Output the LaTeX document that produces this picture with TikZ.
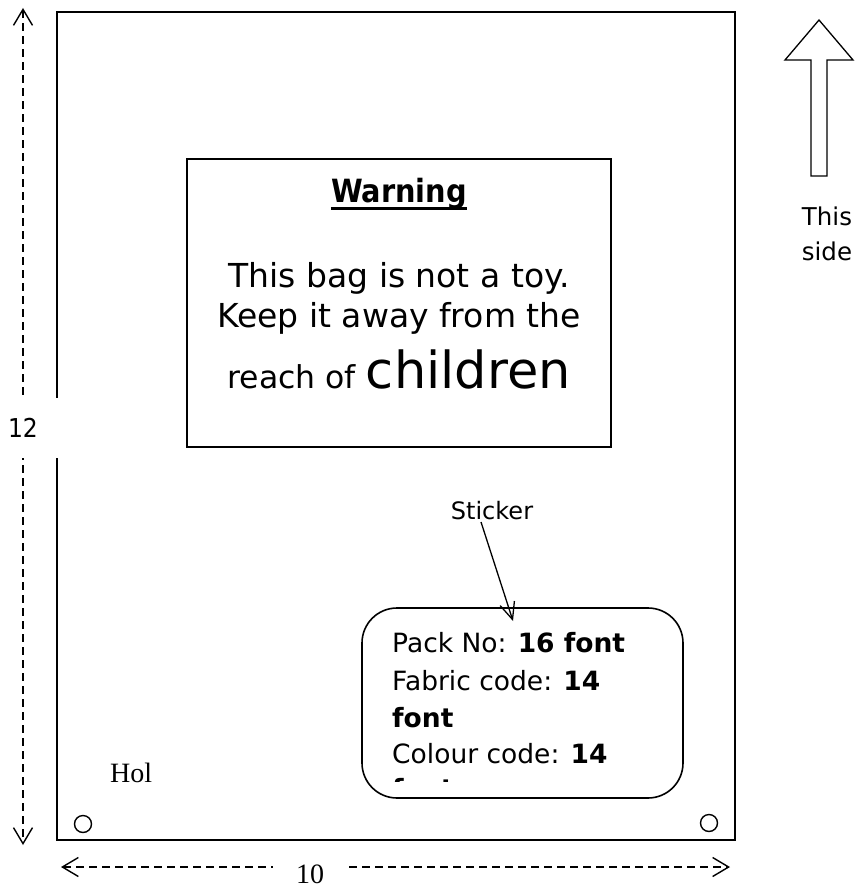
\documentclass[tikz,border=0pt]{standalone}
\usepackage{fontspec}
\setmainfont{Liberation Serif}
\newfontfamily\tah{DejaVu Sans}
\newfontfamily\tahc{DejaVu Sans Condensed}
\usetikzlibrary{arrows.meta}
\tikzset{
  frame/.style={line width=2.2pt},
  dimline/.style={line width=1.4pt, dash pattern=on 8pt off 5pt,
     {Straight Barb[length=16pt,width=19pt,line width=1.4pt]}-{Straight Barb[length=16pt,width=19pt,line width=1.4pt]}},
  sanstxt/.style={inner sep=0pt, anchor=base},
  hole/.style={draw, circle, minimum size=17pt, inner sep=0pt, line width=1.4pt},
  sticktxt/.style={inner sep=0pt, anchor=base west, font=\tah\fontsize{26.5}{30}\selectfont}
}
\begin{document}
\begin{tikzpicture}[x=1pt,y=-1pt]
\useasboundingbox (0,0) rectangle (855,888);
% main bag outline
\draw[frame] (57,12) rectangle (735,840);
% left dimension
\coordinate (lt) at (23,8);
\coordinate (lb) at (23,845);
\draw[dimline] (lt) -- (lb);
\node[fill=white, inner sep=0pt, minimum width=69pt, minimum height=60pt,
      font=\tahc\fontsize{26}{30}\selectfont] (twelve) at (23,428) {12};
% bottom dimension
\coordinate (bl) at (61,867);
\coordinate (br) at (730,867);
\draw[dimline] (bl) -- (br);
\node[fill=white, anchor=base, inner ysep=0pt, text height=21pt, text depth=0pt,
      minimum width=75pt, font=\fontsize{28}{32}\selectfont] (ten) at (310,883) {10};
% warning box
\node[draw, frame, minimum width=424pt, minimum height=288pt] (wbox) at (399,303) {};
\node[sanstxt, font=\tahc\bfseries\fontsize{32}{38}\selectfont] (warn) at (399,202) {Warning};
\draw[line width=3pt] ([yshift=-6pt]warn.base west) -- ([yshift=-6pt]warn.base east);
\node[sanstxt, font=\tah\fontsize{33}{38}\selectfont] (w1) at (399,287) {This bag is not a toy.};
\node[sanstxt, font=\tah\fontsize{33}{38}\selectfont] (w2) at (399,327) {Keep it away from the};
\node[sanstxt, font=\tah\fontsize{31.5}{36}\selectfont] (w3) at (399,388) {reach of {\fontsize{51}{60}\selectfont children}};
% sticker
\node[sanstxt, font=\tah\fontsize{24}{28}\selectfont] (slabel) at (492,519) {Sticker};
\node[draw, line width=1.6pt, rounded corners=35pt, minimum width=321pt, minimum height=190pt] (sticker) at (522.5,703) {};
\coordinate (sa) at (481,522);
\coordinate (sb) at (513,621);
\draw[line width=1.3pt, -{Straight Barb[length=17pt,width=15pt,line width=1.3pt]}] (sa) -- (sb);
\begin{scope}
\clip (362,608) rectangle (683,781);
\node[sticktxt] (s1) at (392,652) {Pack No: \textbf{16 font}};
\node[sticktxt] (s2) at (392,690) {Fabric code: \textbf{14}};
\node[sticktxt] (s3) at (392,727) {\textbf{font}};
\node[sticktxt] (s4) at (392,763) {Colour code: \textbf{14}};
\node[sticktxt] (s5) at (392,798) {\textbf{font}};
\end{scope}
% holes
\node[anchor=base west, inner sep=0pt, font=\fontsize{28}{32}\selectfont] (hol) at (110,782) {Hol};
\node[hole] (holeL) at (83,824) {};
\node[hole] (holeR) at (709,823) {};
% up arrow
\draw[line width=1.3pt] (811,176) -- (811,60) -- (785,60) -- (819,20) -- (853,60) -- (827,60) -- (827,176) -- cycle;
\node[sanstxt, font=\tah\fontsize{24.5}{28}\selectfont] (this) at (827,225) {This};
\node[sanstxt, font=\tah\fontsize{24.5}{28}\selectfont] (side) at (827,260) {side};
\end{tikzpicture}
\end{document}
